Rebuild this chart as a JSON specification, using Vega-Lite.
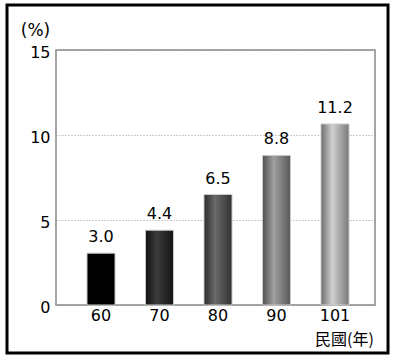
{
  "$schema": "https://vega.github.io/schema/vega-lite/v6.json",
  "width": 319,
  "height": 255,
  "autosize": {"type": "none"},
  "padding": {"left": 56, "top": 50, "right": 21, "bottom": 54},
  "background": "white",
  "config": {
    "font": "DejaVu Sans",
    "view": {"stroke": "#888888", "strokeWidth": 1.5}
  },
  "resolve": {"scale": {"x": "independent", "y": "independent"}},
  "layer": [
    {
      "data": {"values": [{"x1": -0.1536, "x2": 1.0408, "y1": 1.1765, "y2": -0.188}]},
      "mark": {"type": "rect", "fill": null, "stroke": "black", "strokeWidth": 3, "clip": false},
      "encoding": {
        "x": {"field": "x1", "type": "quantitative", "scale": {"domain": [0, 1]}, "axis": null},
        "x2": {"field": "x2"},
        "y": {"field": "y1", "type": "quantitative", "scale": {"domain": [0, 1]}, "axis": null},
        "y2": {"field": "y2"}
      }
    },
    {
      "data": {"values": [
        {"year": "60", "bar": 3.05, "label": "3.0"},
        {"year": "70", "bar": 4.4, "label": "4.4"},
        {"year": "80", "bar": 6.5, "label": "6.5"},
        {"year": "90", "bar": 8.8, "label": "8.8"},
        {"year": "101", "bar": 10.65, "label": "11.2"}
      ]},
      "encoding": {
        "x": {
          "field": "year", "type": "nominal", "sort": null,
          "scale": {"paddingInner": 0.521, "paddingOuter": 0.487, "align": 0.544},
          "axis": {
            "labelAngle": 0, "labelFontSize": 16, "labelColor": "black", "labelPadding": 2,
            "ticks": false, "domain": false, "grid": false,
            "title": "民國(年)", "titleFont": "Noto Sans CJK TC", "titleFontSize": 16, "titleFontWeight": "normal", "titleColor": "black",
            "titleX": 288, "titleY": 34, "titleAlign": "center", "titleBaseline": "middle"
          }
        },
        "y": {
          "field": "bar", "type": "quantitative",
          "scale": {"domain": [0, 15], "nice": false},
          "axis": {
            "values": [0, 5, 10, 15], "labelFontSize": 16, "labelColor": "black", "labelPadding": 6,
            "labelOffset": 2, "ticks": false, "domain": false,
            "grid": true, "gridColor": "#999999", "gridDash": [1, 2], "gridWidth": 1,
            "title": "(%)", "titleAngle": 0, "titleFontSize": 17, "titleFontWeight": "normal", "titleColor": "black",
            "titleX": -21, "titleY": -20, "titleAlign": "center", "titleBaseline": "middle"
          }
        }
      },
      "layer": [
        {
          "mark": {"type": "bar", "stroke": "#cccccc", "strokeWidth": 1},
          "encoding": {
            "fill": {
              "condition": [
                {"test": "datum.year === '70'", "value": {"gradient": "linear", "x1": 0, "x2": 1, "y1": 0, "y2": 0, "stops": [{"offset": 0, "color": "#111111"}, {"offset": 0.4, "color": "#3c3c3c"}, {"offset": 1, "color": "#141414"}]}},
                {"test": "datum.year === '80'", "value": {"gradient": "linear", "x1": 0, "x2": 1, "y1": 0, "y2": 0, "stops": [{"offset": 0, "color": "#2c2c2c"}, {"offset": 0.4, "color": "#6a6a6a"}, {"offset": 1, "color": "#303030"}]}},
                {"test": "datum.year === '90'", "value": {"gradient": "linear", "x1": 0, "x2": 1, "y1": 0, "y2": 0, "stops": [{"offset": 0, "color": "#505050"}, {"offset": 0.4, "color": "#a0a0a0"}, {"offset": 1, "color": "#585858"}]}},
                {"test": "datum.year === '101'", "value": {"gradient": "linear", "x1": 0, "x2": 1, "y1": 0, "y2": 0, "stops": [{"offset": 0, "color": "#6c6c6c"}, {"offset": 0.4, "color": "#d0d0d0"}, {"offset": 1, "color": "#7a7a7a"}]}}
              ],
              "value": "#000000"
            }
          }
        },
        {
          "mark": {"type": "text", "fontSize": 16, "baseline": "alphabetic", "dy": -11, "color": "black"},
          "encoding": {"text": {"field": "label"}}
        }
      ]
    }
  ]
}
